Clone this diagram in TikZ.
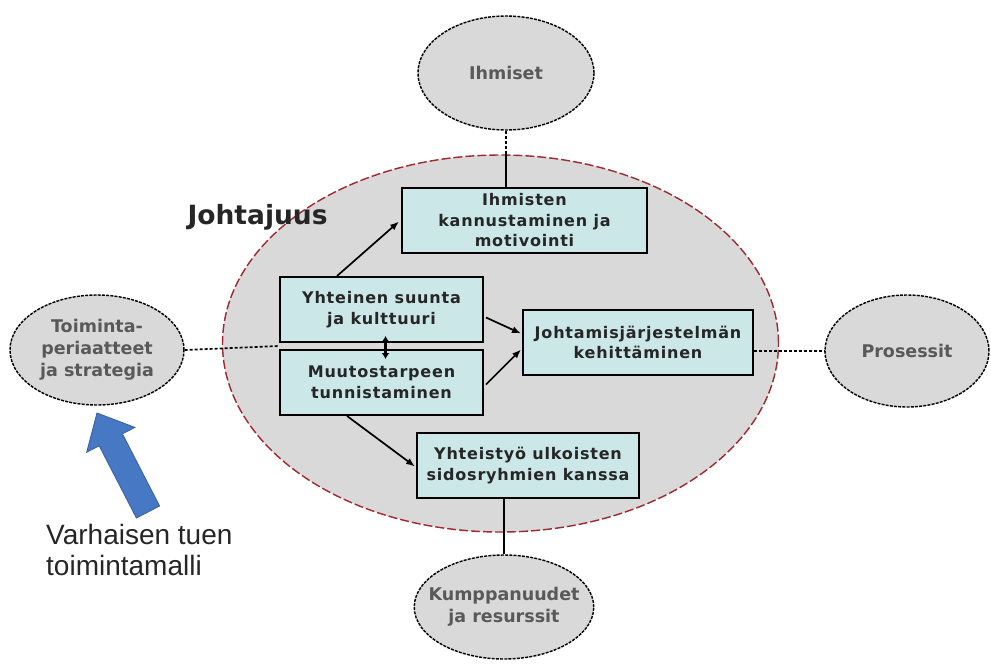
\documentclass[tikz,border=0pt]{standalone}
\usepackage{fontspec}
\setmainfont{DejaVu Sans}
\newfontfamily\notefont{Liberation Sans}
\newfontfamily\cardfont[LetterSpace=5]{DejaVu Sans}
\usetikzlibrary{calc,shapes.geometric,arrows.meta}
\definecolor{boxcyan}{HTML}{CBE7E7}
\definecolor{ovalgrey}{HTML}{D9D9D9}
\definecolor{rimred}{HTML}{A02A30}
\definecolor{arrowblue}{HTML}{4678C4}
\definecolor{arrowedge}{HTML}{3A62A2}
\tikzset{
	oval/.style={ellipse, draw, fill=ovalgrey, line width=0.5mm, dash pattern=on 3pt off 1.2pt, inner xsep=-12pt, inner ysep=0pt, align=center, text=black!65, font=\fontsize{17.5}{22}\selectfont\bfseries},
	card/.style={rectangle, draw, fill=boxcyan, line width=0.7mm, inner sep=0pt, align=center, text=black!85, font=\cardfont\fontsize{16}{20.5}\selectfont\bfseries},
	link/.style={line width=0.6mm, dash pattern=on 3pt off 2pt},
	push/.style={line width=0.6mm, -{Latex[length=9pt,width=7pt]}}
}

\begin{document}
\begin{tikzpicture}[x=1pt, y=-1pt]
		%%%%% START %%%%%
		\useasboundingbox (0, 0) rectangle (991, 664);
		
		\node[ellipse, draw=rimred, fill=ovalgrey, line width=0.5mm, dash pattern=on 9pt off 3pt, minimum width=556pt, minimum height=377pt] (johtajuus) at (500.5, 343.5) {};
		\node[anchor=west, font=\fontsize{26.5}{30}\selectfont\bfseries, text=black!85] (otsikko) at (184, 217) {Johtajuus};
		
		\node[oval, minimum width=176pt, minimum height=114pt] (ihmiset) at (506, 73) {Ihmiset};
		\node[oval, minimum width=174pt, minimum height=110pt] (toiminta) at (97, 350) {Toiminta-\\periaatteet\\ja strategia};
		\node[oval, minimum width=164pt, minimum height=112pt] (prosessit) at (907, 351) {Prosessit};
		\node[oval, minimum width=178pt, minimum height=104pt] (kumppanuudet) at (504, 607) {Kumppanuudet\\ja resurssit};
		
		\node[card, minimum width=245pt, minimum height=65pt] (kannustus) at (524.5, 220.5) {Ihmisten\\kannustaminen ja\\motivointi};
		\node[card, minimum width=203pt, minimum height=65pt] (suunta) at (381.5, 309.5) {Yhteinen suunta\\ja kulttuuri};
		\node[card, minimum width=203pt, minimum height=65pt] (muutos) at (381.5, 382.5) {Muutostarpeen\\tunnistaminen};
		\node[card, minimum width=230pt, minimum height=65pt] (jarjestelma) at (638, 342.5) {Johtamisjärjestelmän\\kehittäminen};
		\node[card, minimum width=222pt, minimum height=65pt] (yhteistyo) at (528, 465.5) {Yhteistyö ulkoisten\\sidosryhmien kanssa};
		
		% yhteydet ulkoisiin
		\draw[link] (ihmiset.south) -- (ihmiset.south |- johtajuus.north);
		\draw[line width=0.6mm] (ihmiset.south |- johtajuus.north) -- (ihmiset.south |- kannustus.north);
		\coordinate (sauma) at ($(suunta.south west)!0.5!(muutos.north west)$);
		\draw[link] (toiminta.east) -- (sauma);
		\draw[link] (jarjestelma.east |- prosessit.west) -- (prosessit.west);
		\draw[line width=0.6mm] (kumppanuudet.north |- yhteistyo.south) -- (kumppanuudet.north);
		
		% nuolet
		\draw[push] ($(suunta.north west)+(58, 0)$) -- ($(kannustus.west)+(-2, 1)$);
		\draw[push] ($(suunta.east)+(2, 8)$) -- ($(jarjestelma.west)+(-1, -9)$);
		\draw[push] ($(muutos.east)+(2, 2)$) -- ($(jarjestelma.west)+(-1, 7)$);
		\draw[push] ($(muutos.south west)+(68, 0)$) -- ($(yhteistyo.west)+(-1, 1)$);
		\draw[line width=1mm, {Latex[length=6pt,width=8pt]}-{Latex[length=6pt,width=8pt]}] ($(suunta.south)+(4, -7)$) -- ($(muutos.north)+(4, 10)$);
		
		% sininen nuoli
		\draw[fill=arrowblue, draw=arrowedge, line width=0.3mm] (159.6, 506.0) -- (122.4, 433.8) -- (134.9, 427.4) -- (97, 413) -- (86.7, 452.2) -- (99.2, 445.8) -- (136.4, 518.0) -- cycle;
		\node[anchor=north west, align=left, inner sep=0pt, font=\notefont\fontsize{28}{31}\selectfont, text=black!85] (malli) at (46, 524) {Varhaisen tuen\\toimintamalli};
		
		%%%%% END %%%%%
	\end{tikzpicture}
\end{document}
